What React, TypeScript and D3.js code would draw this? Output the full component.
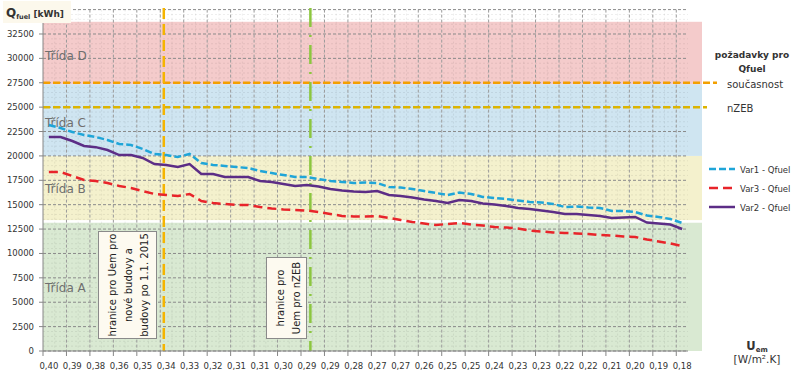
import React from "react";
import * as d3 from "d3";

// ---- data ----
const uTickLabels = ["0,40","0,39","0,38","0,36","0,35","0,34","0,33","0,32","0,31","0,31","0,30","0,29","0,29","0,28","0,27","0,27","0,26","0,25","0,25","0,24","0,23","0,23","0,22","0,22","0,21","0,20","0,19","0,18"];
const yTicks = [0,2500,5000,7500,10000,12500,15000,17500,20000,22500,25000,27500,30000,32500];
const var1 = [23170,22860,22450,22140,21940,21630,21220,21120,20710,20200,20090,19890,20200,19270,19070,18970,18860,18760,18450,18250,
  18040,17840,17840,17630,17430,17330,17220,17280,17220,16810,16760,16610,16400,16200,15990,16250,16100,15790,15690,15580,
  15430,15280,15230,15070,14760,14810,14710,14660,14350,14350,14250,13890,13740,13530,13120];
const var2 = [21940,21940,21530,21020,20900,20600,20090,20090,19790,19170,19070,18860,19170,18150,18150,17840,17840,17840,17430,17330,
  17120,16920,17020,16870,16610,16460,16350,16300,16400,15990,15890,15740,15530,15380,15170,15480,15380,15120,15020,14870,
  14660,14560,14400,14250,14050,14050,13940,13840,13640,13690,13740,13170,13070,12970,12510];
const var3 = [18350,18350,17940,17530,17430,17220,16920,16710,16400,16100,15990,15890,16100,15380,15170,15070,14970,14970,14760,14610,
  14510,14460,14400,14250,14050,13840,13790,13790,13840,13640,13430,13230,13070,12920,13020,13120,12970,12870,12710,12660,
  12560,12350,12250,12150,12100,12050,12000,11890,11840,11740,11690,11430,11230,11020,10770];
const classBands = [
  { name: "Třída A", from: 0, to: 13150, color: "#d9e9d2", labelY: 6000 },
  { name: "Třída B", from: 13420, to: 20000, color: "#f4f1cd", labelY: 16200 },
  { name: "Třída C", from: 20000, to: 27350, color: "#cfe5f1", labelY: 23000 },
  { name: "Třída D", from: 27350, to: 33750, color: "#f4cbcb", labelY: 29800 },
];
const requirementLevels = [
  { name: "současnost", value: 27500 },
  { name: "nZEB", value: 25000 },
];
const boundaryNew = 10.3; // category position
const boundaryNzeb = 22.8;

const FONT = "'DejaVu Sans', Verdana, sans-serif";

export default function App() {
  const n = var1.length;
  const x = d3.scaleLinear().domain([0, n]).range([43, 688]);
  const y = d3.scaleLinear().domain([0, 35000]).range([351, 9.6]);
  const cx = (i: number) => x(i + 0.5);
  const line = d3.line<number>().x((_, i) => cx(i)).y((d) => y(d));
  const bandRight = 702;

  const minorY = d3.range(500, 35001, 500).filter((v) => v % 2500 !== 0);
  const majorY = d3.range(0, 35001, 2500);
  const majorX = d3.range(2, n + 1, 2);
  const minorX = d3.range(1, n, 2);

  return (
    <svg width={800} height={376} style={{ position: "absolute", left: 0, top: 0, fontFamily: FONT }}>
      <rect width={800} height={376} fill="#fff" />
      {/* bands */}
      {classBands.map((b) => (
        <rect key={b.name} x={x(0)} width={bandRight - x(0)} y={y(b.to)} height={y(b.from) - y(b.to)} fill={b.color} />
      ))}
      {/* minor grid */}
      {minorY.map((v) => (
        <line key={"my" + v} x1={x(0)} x2={x(n)} y1={y(v)} y2={y(v)} stroke="#000" strokeOpacity={0.07} strokeDasharray="2,2" />
      ))}
      {minorX.map((i) => (
        <line key={"mx" + i} x1={x(i)} x2={x(i)} y1={y(35000)} y2={y(0)} stroke="#000" strokeOpacity={0.07} strokeDasharray="2,2" />
      ))}
      {/* major grid */}
      {majorY.map((v) => (
        <line key={"gy" + v} x1={x(0)} x2={x(n)} y1={y(v)} y2={y(v)} stroke="#8a8a8a" strokeDasharray="3,2" />
      ))}
      {majorX.map((i) => (
        <line key={"gx" + i} x1={x(i)} x2={x(i)} y1={y(35000)} y2={y(0)} stroke="#9a9a9a" strokeDasharray="3,2" />
      ))}
      {/* class labels */}
      {classBands.map((b) => (
        <text key={"t" + b.name} x={45} y={y(b.labelY)} fontSize={12} fill="#6f6f6f">{b.name}</text>
      ))}
      {/* requirement lines */}
      <line x1={x(0)} x2={717} y1={y(requirementLevels[0].value)} y2={y(requirementLevels[0].value)} stroke="#f3a000" strokeWidth={2.5} strokeDasharray="7,3" />
      <line x1={x(0)} x2={707} y1={y(requirementLevels[1].value)} y2={y(requirementLevels[1].value)} stroke="#dcb400" strokeWidth={2.5} strokeDasharray="7,3" />
      {/* vertical boundaries */}
      <line x1={x(boundaryNew)} x2={x(boundaryNew)} y1={8} y2={y(0)} stroke="#f5b400" strokeWidth={2.5} strokeDasharray="11,5" />
      <line x1={x(boundaryNzeb)} x2={x(boundaryNzeb)} y1={8} y2={y(0)} stroke="#8cc63f" strokeWidth={2.5} strokeDasharray="19,8,2,8" />
      {/* series */}
      <path d={line(var3) || ""} fill="none" stroke="#e8242a" strokeWidth={2.5} strokeDasharray="9,5" />
      <path d={line(var1) || ""} fill="none" stroke="#1fa5d8" strokeWidth={2.5} strokeDasharray="7,3" />
      <path d={line(var2) || ""} fill="none" stroke="#5c2d86" strokeWidth={2.5} />
      {/* axes */}
      <line x1={x(0)} x2={x(0)} y1={y(35000)} y2={y(0)} stroke="#868686" />
      <line x1={x(0)} x2={x(n)} y1={y(0)} y2={y(0)} stroke="#868686" />
      {majorY.map((v) => (
        <line key={"ty" + v} x1={x(0) - 4} x2={x(0)} y1={y(v)} y2={y(v)} stroke="#868686" />
      ))}
      {yTicks.map((v) => (
        <text key={"yl" + v} x={34} y={y(v) + 3} fontSize={8.5} textAnchor="end" fill="#333">{v}</text>
      ))}
      {[0, ...majorX].map((i) => (
        <line key={"tx" + i} x1={x(i)} x2={x(i)} y1={y(0)} y2={y(0) + 5} stroke="#868686" />
      ))}
      {uTickLabels.map((l, j) => (
        <text key={"xl" + j} x={cx(j * 2)} y={369} fontSize={8.5} textAnchor="middle" fill="#333">{l}</text>
      ))}
      {/* axis titles */}
      <rect x={3} y={1} width={68} height={22} fill="#fcf8ec" />
      <text x={6} y={17} fill="#333" fontWeight="bold">
        <tspan fontSize={12}>Q</tspan>
        <tspan fontSize={6.5} dy={2}>fuel</tspan>
        <tspan fontSize={9} dy={-2}> [kWh]</tspan>
      </text>
      <text x={757} y={350} textAnchor="middle" fill="#333" fontWeight="bold">
        <tspan fontSize={11.5}>U</tspan>
        <tspan fontSize={7} dy={2}>em</tspan>
      </text>
      <text x={757} y={363} textAnchor="middle" fill="#333" fontSize={10.5}>[W/m².K]</text>
      {/* legend */}
      <text x={752} y={58} textAnchor="middle" fontSize={9} fontWeight="bold" fill="#333">požadavky pro</text>
      <text x={752} y={72} textAnchor="middle" fontSize={9} fontWeight="bold" fill="#333">Qfuel</text>
      <text x={727} y={88} fontSize={10} fill="#333">{requirementLevels[0].name}</text>
      <text x={727} y={112} fontSize={10} fill="#333">{requirementLevels[1].name}</text>
      {[
        { name: "Var1 - Qfuel", color: "#1fa5d8", dash: "7,3", yy: 169 },
        { name: "Var3 - Qfuel", color: "#e8242a", dash: "9,5", yy: 188 },
        { name: "Var2 - Qfuel", color: "#5c2d86", dash: "", yy: 207 },
      ].map((s) => (
        <g key={s.name}>
          <line x1={709} x2={735} y1={s.yy} y2={s.yy} stroke={s.color} strokeWidth={2.5} strokeDasharray={s.dash || undefined} />
          <text x={740} y={s.yy + 3.5} fontSize={8.5} fill="#333">{s.name}</text>
        </g>
      ))}
      {/* annotation boxes */}
      <rect x={98.5} y={231.5} width={58} height={107} fill="#fdfaf0" stroke="#8a8a8a" />
      <g transform="translate(127.5,285) rotate(-90)" fontSize={10} fill="#222" textAnchor="middle">
        <text x={0} y={-12}>hranice pro Uem pro</text>
        <text x={0} y={4}>nové budovy a</text>
        <text x={0} y={20}>budovy po 1.1. 2015</text>
      </g>
      <rect x={266.5} y={257.5} width={40} height={81} fill="#fdfaf0" stroke="#8a8a8a" />
      <g transform="translate(286.5,298) rotate(-90)" fontSize={10} fill="#222" textAnchor="middle">
        <text x={0} y={-3}>hranice pro</text>
        <text x={0} y={13}>Uem pro nZEB</text>
      </g>
    </svg>
  );
}
